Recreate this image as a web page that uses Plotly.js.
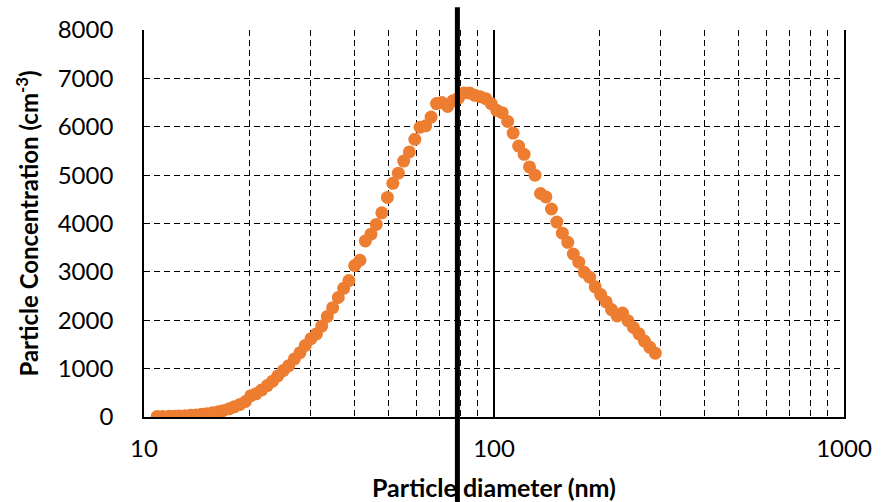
<!DOCTYPE html>
<html>
<head>
<meta charset="utf-8">
<script src="https://cdn.plot.ly/plotly-3.0.1.min.js"></script>
<style>html,body{margin:0;padding:0;background:#fff;}#chart{width:888px;height:502px;}</style>
</head>
<body>
<div id="chart"></div>
<script>
// Particle diameter (nm)
const diameters = [10.9, 11.3, 11.8, 12.2, 12.6, 13.1, 13.6, 14.1, 14.6, 15.1, 15.7, 16.3, 16.8, 17.5, 18.1, 18.8, 19.5, 20.2, 20.9, 21.7, 22.5, 23.3, 24.1, 25.0, 25.9, 26.9, 27.9, 28.9, 30.0, 31.1, 32.2, 33.4, 34.6, 35.9, 37.2, 38.5, 40.0, 41.4, 42.9, 44.5, 46.1, 47.8, 49.6, 51.4, 53.3, 55.2, 57.3, 59.4, 61.5, 63.8, 66.1, 68.5, 71.0, 73.7, 76.4, 79.1, 82.0, 85.1, 88.2, 91.4, 94.7, 98.2, 101.8, 105.5, 109.4, 113.4, 117.6, 121.9, 126.3, 131.0, 135.8, 140.7, 145.9, 151.2, 156.8, 162.5, 168.5, 174.7, 181.1, 187.7, 194.6, 201.7, 209.1, 216.7, 224.7, 232.9, 241.4, 250.3, 259.5, 269.0, 278.8, 289.0];
// Particle concentration (cm^-3)
const concentrations = [10, 12, 15, 18, 22, 28, 35, 42, 55, 65, 90, 110, 130, 170, 210, 260, 320, 440, 480, 560, 650, 740, 850, 960, 1060, 1200, 1330, 1480, 1620, 1720, 1880, 2080, 2260, 2470, 2660, 2820, 3130, 3240, 3640, 3780, 3980, 4220, 4540, 4830, 5040, 5290, 5480, 5740, 5990, 6020, 6200, 6480, 6500, 6420, 6540, 6590, 6700, 6700, 6650, 6620, 6580, 6480, 6340, 6290, 6110, 5870, 5600, 5430, 5170, 5000, 4620, 4550, 4300, 4030, 3800, 3610, 3370, 3200, 2990, 2890, 2690, 2530, 2380, 2220, 2090, 2150, 1990, 1850, 1720, 1570, 1440, 1320];
// x-axis ticks (log scale)
const xTickVals = [10, 100, 1000];
const xTickText = ['10', '100', '1000'];
const xMinorVals = [20, 30, 40, 50, 60, 70, 80, 90, 200, 300, 400, 500, 600, 700, 800, 900];
const yTickVals = [0, 1000, 2000, 3000, 4000, 5000, 6000, 7000, 8000];
const markerDiameter = 78.6;

const FONT = 'Lato, "Open Sans", sans-serif';

const trace = {
  x: diameters,
  y: concentrations,
  type: 'scatter',
  mode: 'markers',
  marker: {color: '#ED7D31', size: 13},
  hoverinfo: 'x+y',
  showlegend: false
};

const layout = {
  width: 888,
  height: 502,
  margin: {l: 144, r: 44, t: 30, b: 85},
  paper_bgcolor: '#ffffff',
  plot_bgcolor: '#ffffff',
  font: {family: FONT, color: '#000000', size: 24},
  showlegend: false,
  xaxis: {
    type: 'log',
    range: [1, 3],
    tickmode: 'array',
    tickvals: xTickVals,
    ticktext: xTickText,
    ticks: '',
    ticklabelstandoff: 10,
    tickfont: {family: FONT, size: 24, color: '#000'},
    showgrid: true,
    gridcolor: '#000000',
    gridwidth: 1.2,
    minor: {
      tickmode: 'array',
      tickvals: xMinorVals,
      ticks: '',
      showgrid: true,
      gridcolor: '#000000',
      gridwidth: 1,
      griddash: '6px,4px'
    },
    showline: true,
    linecolor: '#000000',
    linewidth: 1.5,
    zeroline: false,
    automargin: false,
    title: {text: 'Particle diameter (nm)', font: {family: FONT, size: 25, color: '#000', weight: 'bold'}, standoff: 22}
  },
  yaxis: {
    range: [0, 8000],
    tickmode: 'array',
    tickvals: yTickVals,
    ticks: '',
    ticklabelstandoff: 24,
    tickfont: {family: FONT, size: 24, color: '#000'},
    showgrid: true,
    gridcolor: '#000000',
    gridwidth: 1,
    griddash: '6px,4px',
    showline: true,
    mirror: true,
    linecolor: '#000000',
    linewidth: 1.8,
    zeroline: false,
    automargin: false,
    title: {text: 'Particle Concentration (cm<sup>-3</sup>)', font: {family: FONT, size: 24, color: '#000', weight: 'bold'}, standoff: 12}
  },
  shapes: [
    {type: 'line', xref: 'x', yref: 'paper', x0: markerDiameter, x1: markerDiameter, y0: -0.23, y1: 1.059, layer: 'above', line: {color: '#000000', width: 5}}
  ]
};

Plotly.newPlot('chart', [trace], layout, {displayModeBar: false, staticPlot: true});
</script>
</body>
</html>
